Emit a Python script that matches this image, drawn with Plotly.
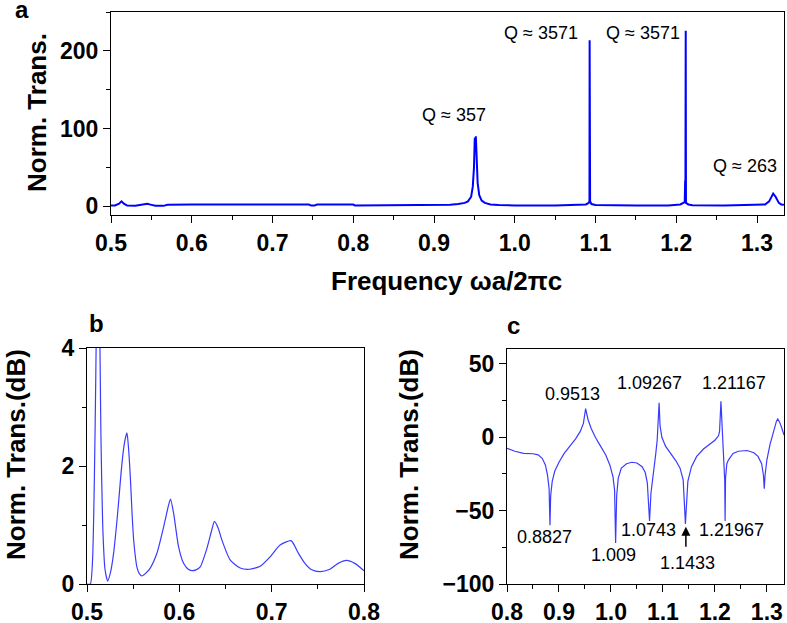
import plotly.graph_objects as go

# ---------------- data ----------------
# Panel a: normalized transmission (linear)
a_freq = [0.500, 0.505, 0.510, 0.513, 0.516, 0.520, 0.530, 0.535, 0.540, 0.545,
          0.550, 0.555, 0.565, 0.570, 0.600, 0.650, 0.700, 0.745, 0.748, 0.752,
          0.755, 0.800, 0.802, 0.850, 0.900, 0.920, 0.930, 0.938, 0.942, 0.946,
          0.948, 0.9495, 0.9505, 0.9512, 0.9518, 0.9525, 0.954, 0.956, 0.959, 0.963,
          0.970, 0.980, 1.000, 1.050, 1.080, 1.088, 1.0915, 1.0925, 1.0927, 1.0929,
          1.0931, 1.0933, 1.095, 1.100, 1.150, 1.190, 1.205, 1.2105, 1.2110, 1.2113,
          1.2117, 1.2120, 1.215, 1.220, 1.260, 1.300, 1.310, 1.315, 1.318, 1.320,
          1.323, 1.327, 1.330, 1.3334]
a_trans = [0.5, 0.8, 3, 6, 3, 0.5, 0.3, 1, 2.5, 2.8,
           1.5, 0.3, 0.2, 1.5, 1.8, 1.8, 1.8, 1.8, 0.5, 0.5,
           1.8, 1.8, 0.8, 0.8, 0.8, 1.5, 2.5, 4, 6, 12,
           25, 50, 88, 80, 90, 60, 30, 14, 7, 4,
           2, 1.2, 0.8, 0.8, 1, 2, 4, 6, 214, 8,
           57, 6, 2.5, 1.2, 0.8, 0.8, 2, 5, 33, 5,
           226, 4, 2, 1, 0.8, 1, 2, 6, 12, 16,
           12, 4, 2, 1.5]

# Panel b: normalized transmission (dB), low-frequency zoom
b_freq = [0.500, 0.5036, 0.5060, 0.5080, 0.5095, 0.5105, 0.5120, 0.5135, 0.5150, 0.5170,
          0.5195, 0.5224, 0.5255, 0.5288, 0.5320, 0.5343, 0.5370, 0.5397, 0.5420, 0.5433,
          0.5450, 0.5469, 0.5488, 0.5505, 0.5525, 0.5540, 0.5565, 0.5595, 0.5635, 0.5685,
          0.5757, 0.5830, 0.5884, 0.5905, 0.5938, 0.5992, 0.6046, 0.6090, 0.6136, 0.6180,
          0.6226, 0.6298, 0.6352, 0.6380, 0.6420, 0.6460, 0.6550, 0.6659, 0.6760, 0.6875,
          0.6983, 0.7091, 0.7210, 0.7290, 0.7360, 0.7434, 0.7524, 0.7630, 0.7720, 0.7810,
          0.7900, 0.8000]
b_db = [0.0, 0.0, 0.4, 1.8, 3.5, 4.8, 6.0, 4.8, 2.6, 1.0,
        0.25, 0.05, 0.2, 0.52, 1.0, 1.4, 1.9, 2.3, 2.5, 2.56,
        2.3, 1.82, 1.2, 0.75, 0.45, 0.29, 0.18, 0.136, 0.18, 0.27,
        0.52, 0.97, 1.34, 1.44, 1.2, 0.63, 0.35, 0.26, 0.226, 0.24,
        0.29, 0.6, 0.92, 1.06, 0.95, 0.75, 0.41, 0.27, 0.25, 0.3,
        0.46, 0.66, 0.735, 0.52, 0.35, 0.24, 0.21, 0.25, 0.35, 0.4,
        0.35, 0.226]

# Panel c: normalized transmission (dB), high-frequency range
c_freq = [0.800, 0.815, 0.832, 0.850, 0.860, 0.868, 0.874, 0.878, 0.881, 0.8827,
          0.884, 0.887, 0.892, 0.900, 0.910, 0.922, 0.932, 0.941, 0.947, 0.9513,
          0.956, 0.962, 0.970, 0.980, 0.990, 0.998, 1.004, 1.007, 1.009, 1.011,
          1.014, 1.020, 1.030, 1.040, 1.050, 1.060, 1.066, 1.070, 1.0743, 1.077,
          1.082, 1.086, 1.089, 1.09267, 1.0945, 1.098, 1.105, 1.115, 1.125, 1.133,
          1.139, 1.1433, 1.148, 1.155, 1.165, 1.178, 1.190, 1.200, 1.207, 1.209,
          1.21167, 1.2135, 1.2150, 1.2175, 1.2190, 1.21967, 1.2205, 1.2230, 1.226, 1.235,
          1.245, 1.262, 1.275, 1.283, 1.290, 1.2935, 1.295, 1.2965, 1.300, 1.306,
          1.313, 1.3185, 1.321, 1.325, 1.329, 1.333]
c_db = [-7.5, -9.5, -10.9, -11.2, -12, -14.5, -19, -26, -35, -60,
        -40, -30, -23, -17, -11, -5.5, -1, 4, 9.5, 19.5,
        12, 6, 0, -6, -12, -19, -27, -36, -72, -40,
        -28, -21, -18, -17, -17.5, -20, -24, -31, -57, -38,
        -25, -12, -2, 23.5, 8, 0, -6, -11, -16, -21,
        -29, -59, -30, -20, -13, -8, -5, -2, 1, 4,
        24.5, 10, 0, -12, -30, -57, -28, -18, -15.5, -11,
        -9.5, -9, -10.5, -13, -18, -26, -35, -26, -15.5, -5,
        5, 11, 12.5, 10, 6, 1.5]

# annotations
q_labels = ["Q \u2248 357", "Q \u2248 3571", "Q \u2248 3571", "Q \u2248 263"]
q_x = [0.9248, 1.0319, 1.1582, 1.2845]
q_y = [117, 222.6, 222.6, 52]

c_labels = ["0.9513", "1.09267", "1.21167", "0.8827", "1.009", "1.0743", "1.1433", "1.21967"]
c_lab_x = [0.9263, 1.075, 1.2365, 0.8731, 1.0058, 1.0718, 1.1475, 1.2321]
c_lab_y = [29.3, 36.8, 36.8, -68.2, -80.2, -63.2, -85.9, -63.2]

# ---------------- figure ----------------
W, H = 787, 623
FONT = "Liberation Sans, Arial, sans-serif"

def px(xp):
    return xp / W

def py(yp):
    return 1 - yp / H

fig = go.Figure()
fig.add_trace(go.Scatter(x=a_freq, y=a_trans, mode="lines",
                         line=dict(color="#0000ff", width=2), xaxis="x", yaxis="y"))
fig.add_trace(go.Scatter(x=b_freq, y=b_db, mode="lines",
                         line=dict(color="#3b3bff", width=1.2, shape="spline", smoothing=0.6),
                         xaxis="x2", yaxis="y2"))
fig.add_trace(go.Scatter(x=c_freq, y=c_db, mode="lines",
                         line=dict(color="#3b3bff", width=1.2), xaxis="x3", yaxis="y3"))

tickfont = dict(family=FONT, size=23, color="black", weight="bold")

def axis(domain, rng, dtick, tick0, mdtick, anchor, fmt=None):
    d = dict(domain=domain, range=rng, anchor=anchor, showgrid=False, zeroline=False,
             automargin=False,
             showline=True, mirror=True, linecolor="black", linewidth=1.2,
             ticks="outside", ticklen=7, tickwidth=1.2, tickcolor="black",
             tickmode="linear", tick0=tick0, dtick=dtick, tickfont=tickfont,
             minor=dict(ticks="outside", ticklen=4, tickwidth=1.2, tickcolor="black",
                        tickmode="linear", tick0=tick0, dtick=mdtick, showgrid=False))
    if fmt:
        d["tickformat"] = fmt
    return d

fig.update_layout(
    width=W, height=H, margin=dict(l=0, r=0, t=0, b=0, pad=0, autoexpand=False),
    paper_bgcolor="white", plot_bgcolor="white", showlegend=False,
    xaxis=axis([px(111), px(784)], [0.5, 1.3334], 0.1, 0.5, 0.05, "y", ".1f"),
    yaxis=axis([py(215), py(12)], [-11.6, 250.3], 100, 0, 50, "x"),
    xaxis2=axis([px(87), px(364)], [0.5, 0.8], 0.1, 0.5, 0.05, "y2", ".1f"),
    yaxis2=axis([py(584), py(348)], [0, 4], 2, 0, 1, "x2"),
    xaxis3=axis([px(507), px(784)], [0.8, 1.333], 0.1, 0.8, 0.05, "y3", ".1f"),
    yaxis3=axis([py(584), py(349)], [-100, 60.2], 50, 0, 25, "x3"),
)

ann = []
afont = dict(family=FONT, size=18, color="black")
for t, x, y in zip(q_labels, q_x, q_y):
    ann.append(dict(text=t, x=x, y=y, xref="x", yref="y", showarrow=False, font=afont,
                    xanchor="center", yanchor="middle"))
for t, x, y in zip(c_labels, c_lab_x, c_lab_y):
    ann.append(dict(text=t, x=x, y=y, xref="x3", yref="y3", showarrow=False, font=afont,
                    xanchor="center", yanchor="middle"))
# arrow pointing at the 1.1433 dip
ann.append(dict(text="", x=1.1442, y=-60.9, ax=1.1442, ay=-75.6, xref="x3", yref="y3",
                axref="x3", ayref="y3", showarrow=True, arrowhead=2, arrowsize=1.2,
                arrowwidth=1.5, arrowcolor="black"))

bold = dict(family=FONT, color="black", weight="bold")
def paper_text(t, x, y, size, angle=0):
    return dict(text=t, x=px(x), y=py(y), xref="paper", yref="paper", showarrow=False,
                textangle=angle, xanchor="center", yanchor="middle",
                font=dict(size=size, **bold))

ann.append(paper_text("Frequency \u03c9a/2\u03c0c", 447, 281, 26))
ann.append(paper_text("Norm. Trans.", 37, 113, 26, -90))
ann.append(paper_text("Norm. Trans.(dB)", 16, 455, 26, -90))
ann.append(paper_text("Norm. Trans.(dB)", 409, 455, 26, -90))
for t, x, y in [("a", 22, 9), ("b", 96, 323), ("c", 513, 325)]:
    ann.append(paper_text(t, x, y, 24))

fig.update_layout(annotations=ann)
fig.write_html("out.html", config={"displayModeBar": False},
               post_script="document.body.style.margin='0px';document.body.style.overflow='hidden';")
